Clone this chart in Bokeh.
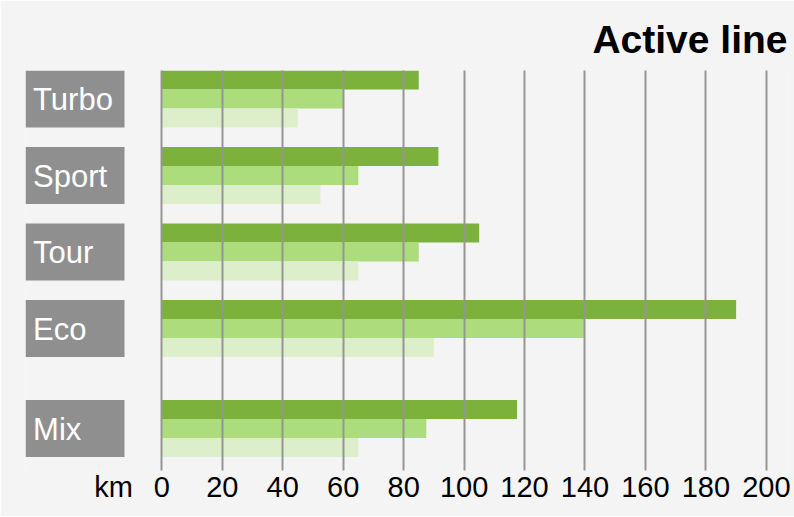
from bokeh.plotting import figure
from bokeh.models import Range1d, FixedTicker, ColumnDataSource
from bokeh.core.properties import value
from bokeh.embed import file_html
from bokeh.resources import INLINE

# ---------------- data ----------------
categories = ["Turbo", "Sport", "Tour", "Eco", "Mix"]
series_names = ["high", "medium", "low"]
range_high = [85, 91.5, 105, 190, 117.5]
range_medium = [60, 65, 85, 140, 87.5]
range_low = [45, 52.5, 65, 90, 65]
tick_values = [0, 20, 40, 60, 80, 100, 120, 140, 160, 180, 200]
tick_labels = [str(v) for v in tick_values]
unit_label = "km"
title_text = "Active line"

# ---------------- styling / layout ----------------
BG = "#f4f4f4"
colors = ["#7cb13c", "#acdc7c", "#ddefca"]
BOX_COLOR = "#8f8f8f"
GRID_COLOR = "#959595"
FONT = "Liberation Sans"

STEP = 4.026          # group step in bar-height units
MIX_EXTRA = 1.237     # extra gap before the separate "Mix" group
X_START, X_END = -45.1, 207.0
BOX_RIGHT = -12.34
TEXT_X = -42.6
TEXT_RISE = 1.46      # baseline height above box bottom (bar units)
UNIT_TICK = -16

W, H = 794, 516

p = figure(width=W, height=H, output_backend="svg", toolbar_location=None,
           x_range=Range1d(X_START, X_END), y_range=Range1d(21.05, 0),
           y_axis_location=None,
           min_border_left=25, min_border_right=7, min_border_top=70,
           min_border_bottom=46)

p.background_fill_color = BG
p.border_fill_color = BG
p.outline_line_color = None

p.title.text = title_text
p.title.align = "right"
p.title.text_font = FONT
p.title.text_font_size = "39px"
p.title.text_font_style = "bold"
p.title.text_color = "#000000"
p.title.standoff = 19

tops = [i * STEP + (MIX_EXTRA if c == "Mix" else 0) for i, c in enumerate(categories)]

series = [range_high, range_medium, range_low]
for j, vals in enumerate(series):
    src = ColumnDataSource(dict(cat=categories, val=vals,
                                y=[t + j + 0.5 for t in tops]))
    p.hbar(y="y", left=0, right="val", height=1.0, source=src,
           fill_color=colors[j], line_color=None, name=series_names[j])

# category label boxes
box_src = ColumnDataSource(dict(cat=categories, y=[t + 1.5 for t in tops],
                                yb=[t + 3 - TEXT_RISE for t in tops]))
p.hbar(y="y", left=X_START, right=BOX_RIGHT, height=3.0, source=box_src,
       fill_color=BOX_COLOR, line_color=None)
p.text(x=TEXT_X, y="yb", text="cat", source=box_src,
       text_font=value(FONT), text_font_size="31px", text_color="white",
       text_baseline="alphabetic", text_align="left")

# grid
p.ygrid.visible = False
p.xgrid.ticker = FixedTicker(ticks=tick_values)
p.xgrid.grid_line_color = GRID_COLOR
p.xgrid.grid_line_width = 2
p.xgrid.level = "overlay"

# x axis
ax = p.xaxis[0]
ax.ticker = FixedTicker(ticks=[UNIT_TICK] + tick_values)
overrides = {UNIT_TICK: unit_label}
overrides.update({v: l for v, l in zip(tick_values, tick_labels)})
ax.major_label_overrides = overrides
ax.axis_line_color = None
ax.major_tick_line_color = None
ax.minor_tick_line_color = None
ax.major_tick_out = 0
ax.major_tick_in = 0
ax.major_label_standoff = 0
ax.major_label_text_font = FONT
ax.major_label_text_font_size = "29px"
ax.major_label_text_color = "#000000"

open("out.html", "w").write(file_html(p, INLINE))
